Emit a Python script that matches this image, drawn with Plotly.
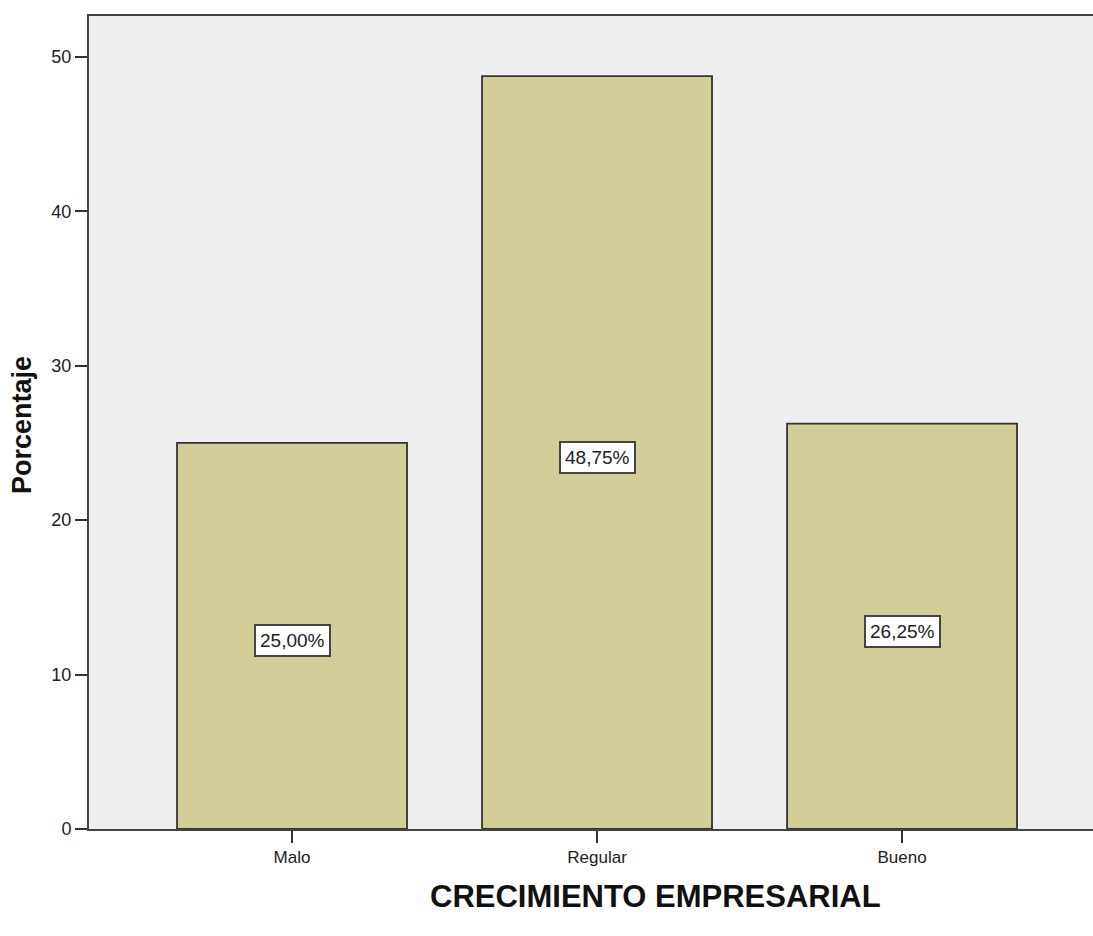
import plotly.graph_objects as go

# Frequency distribution of business growth ratings (percent)
categories = ["Malo", "Regular", "Bueno"]
percentages = [25.00, 48.75, 26.25]
y_ticks = [0, 10, 20, 30, 40, 50]

BAR_FILL = "#D3CE97"
EDGE = "#333333"
TEXT = "#222222"
FONT = "Liberation Sans, Arial, sans-serif"

fig = go.Figure()
fig.add_trace(go.Bar(
    x=categories,
    y=percentages,
    width=0.754,
    marker=dict(color=BAR_FILL, line=dict(color=EDGE, width=1.8)),
    hoverinfo="skip",
))

# Boxed percentage labels centred at half the bar height
for cat, val in zip(categories, percentages):
    fig.add_annotation(
        x=cat, y=val / 2, xref="x", yref="y", yshift=-5,
        text=f"{val:.2f}".replace(".", ",") + "%",
        showarrow=False,
        font=dict(family=FONT, size=19, color=TEXT),
        bgcolor="white", bordercolor="#444444", borderwidth=2, borderpad=4,
    )

# Axis titles
fig.add_annotation(
    x=0.5647, y=-0.0836, xref="paper", yref="paper",
    text="<b>CRECIMIENTO EMPRESARIAL</b>", showarrow=False,
    font=dict(family=FONT, size=31, color="#111111"),
    xanchor="center", yanchor="middle",
)
fig.add_annotation(
    x=-0.0667, y=0.497, xref="paper", yref="paper",
    text="<b>Porcentaje</b>", showarrow=False, textangle=-90,
    font=dict(family=FONT, size=27, color="#111111"),
    xanchor="center", yanchor="middle",
)

fig.update_layout(
    width=1093, height=936,
    margin=dict(l=89, r=0, t=16, b=107),
    paper_bgcolor="white",
    plot_bgcolor="#EFEFEF",
    showlegend=False,
    font=dict(family=FONT, size=17, color=TEXT),
    xaxis=dict(
        type="category",
        range=[-0.6656, 2.626],
        showgrid=False, zeroline=False,
        showline=True, linecolor="#444444", linewidth=2, mirror=True,
        ticks="outside", ticklen=12, tickwidth=2, tickcolor="#333333",
        tickfont=dict(family=FONT, size=17, color=TEXT),
    ),
    yaxis=dict(
        range=[0, 52.65],
        tickvals=y_ticks,
        showgrid=False, zeroline=False,
        showline=True, linecolor="#444444", linewidth=2,
        ticks="outside", ticklen=12, tickwidth=2, tickcolor="#333333",
        tickfont=dict(family=FONT, size=18, color=TEXT),
    ),
)

fig.write_html("out.html")
